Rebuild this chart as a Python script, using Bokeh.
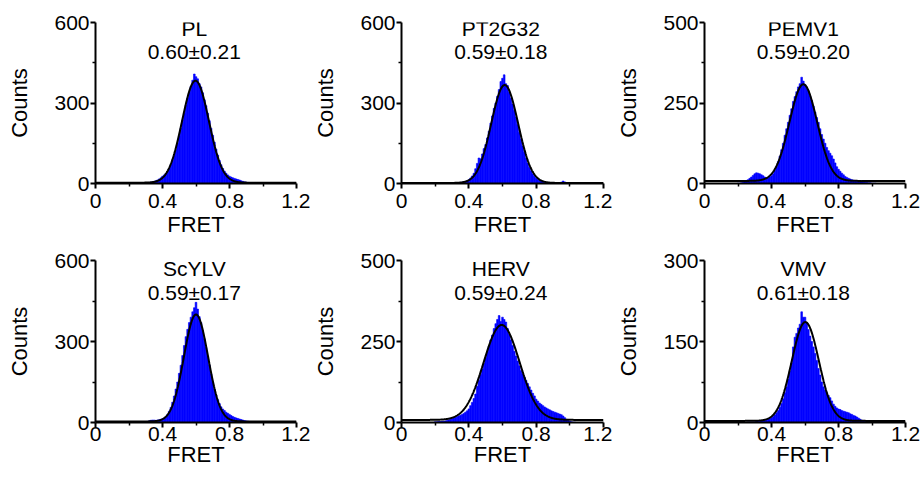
import numpy as np
from bokeh.plotting import figure
from bokeh.models import Range1d, FixedTicker, Label
from bokeh.layouts import column, row
from bokeh.embed import file_html
from bokeh.resources import INLINE

# ---------------- data ----------------
names = ["PL", "PT2G32", "PEMV1", "ScYLV", "HERV", "VMV"]
fret_means = ["0.60", "0.59", "0.59", "0.59", "0.59", "0.61"]
fret_widths = ["0.21", "0.18", "0.20", "0.17", "0.24", "0.18"]
y_max = [600, 600, 500, 600, 500, 300]
x_tick_values = [0, 0.4, 0.8, 1.2]
x_tick_labels = ["0", "0.4", "0.8", "1.2"]
x_minor_values = [0.2, 0.6, 1.0]

# histogram bin centres (FRET), 0.01 wide, 0.20 ... 1.05
bin_start = 0.20
bin_width = 0.01

counts_PL = [0, 0, 0, 1, 1, 1, 1, 2, 2, 2,
             3, 3, 4, 5, 6, 8, 10, 13, 17, 21,
             27, 32, 38, 46, 56, 70, 86, 104, 126, 150,
             178, 206, 236, 262, 292, 318, 340, 362, 385, 408,
             398, 390, 372, 360, 338, 312, 290, 262, 234, 206,
             180, 154, 128, 106, 86, 70, 56, 46, 38, 32,
             27, 24, 21, 19, 17, 15, 13, 10, 8, 6,
             5, 4, 3, 3, 2, 2, 1, 1, 1, 0,
             0, 0, 0, 0, 0, 0]
counts_PT2G32 = [0, 0, 0, 0, 0, 0, 0, 0, 0, 0,
                 1, 1, 2, 3, 3, 4, 5, 7, 8, 10,
                 14, 20, 28, 38, 55, 75, 95, 92, 110, 130,
                 145, 170, 195, 225, 252, 280, 300, 325, 350, 380,
                 392, 405, 372, 365, 340, 318, 296, 272, 248, 220,
                 190, 165, 140, 116, 95, 76, 60, 47, 36, 27,
                 20, 15, 12, 9, 7, 5, 4, 3, 2, 2,
                 1, 1, 1, 1, 2, 5, 9, 6, 2, 1,
                 0, 0, 0, 0, 0, 0]
counts_PEMV1 = [1, 1, 2, 3, 5, 8, 12, 16, 20, 25,
                30, 33, 32, 30, 27, 24, 20, 18, 17, 20,
                24, 30, 40, 52, 68, 85, 105, 125, 150, 170,
                190, 212, 232, 255, 270, 285, 300, 310, 330, 318,
                308, 300, 288, 272, 258, 240, 222, 205, 190, 170,
                152, 138, 125, 112, 102, 94, 86, 76, 64, 52,
                44, 38, 32, 27, 22, 19, 16, 14, 12, 10,
                9, 8, 7, 6, 5, 4, 3, 3, 2, 2,
                1, 1, 1, 0, 0, 0]
counts_ScYLV = [0, 0, 0, 0, 1, 1, 1, 1, 2, 2,
                3, 4, 6, 8, 9, 9, 8, 9, 10, 12,
                14, 17, 22, 30, 42, 56, 75, 98, 124, 150,
                182, 212, 248, 285, 318, 345, 370, 390, 410, 425,
                445, 420, 392, 370, 340, 310, 278, 246, 212, 180,
                150, 124, 102, 84, 70, 58, 50, 44, 38, 34,
                30, 26, 22, 19, 17, 15, 13, 11, 9, 7,
                6, 5, 4, 3, 3, 2, 2, 1, 1, 1,
                0, 0, 0, 0, 0, 0]
counts_HERV = [2, 2, 3, 3, 4, 4, 5, 6, 8, 10,
               12, 14, 16, 18, 20, 22, 25, 28, 32, 36,
               42, 52, 62, 74, 88, 112, 130, 148, 165, 182,
               200, 218, 236, 255, 270, 290, 305, 318, 330, 312,
               325, 318, 310, 290, 272, 255, 238, 220, 205, 190,
               175, 160, 150, 140, 130, 120, 110, 100, 90, 82,
               72, 66, 60, 56, 52, 48, 45, 42, 39, 36,
               34, 32, 30, 28, 26, 24, 20, 15, 10, 6,
               4, 2, 1, 1, 0, 0]
counts_VMV = [0, 0, 0, 0, 0, 0, 1, 1, 1, 1,
              1, 2, 2, 2, 3, 3, 4, 5, 6, 7,
              9, 11, 14, 18, 22, 28, 35, 44, 55, 66,
              80, 95, 110, 140, 158, 165, 175, 182, 205, 195,
              195, 185, 172, 160, 150, 140, 128, 115, 100, 88,
              75, 66, 60, 55, 50, 46, 40, 34, 30, 27,
              25, 24, 22, 21, 20, 19, 18, 16, 15, 13,
              12, 10, 8, 6, 4, 3, 2, 1, 1, 0,
              0, 0, 0, 0, 0, 0]
all_counts = [counts_PL, counts_PT2G32, counts_PEMV1,
              counts_ScYLV, counts_HERV, counts_VMV]

# Gaussian fit parameters: centre, sigma, amplitude, baseline offset
fit_mu = [0.597, 0.613, 0.590, 0.600, 0.595, 0.602]
fit_sigma = [0.080, 0.080, 0.083, 0.072, 0.107, 0.081]
fit_amp = [380, 365, 300, 396, 293, 183]
fit_y0 = [3, 2, 8, 4, 8, 3]

# ---------------- layout / style ----------------
FONT = "Liberation Sans"
col_w = [310, 302, 309]
col_left = [95, 91, 92]
col_frame = [201, 202, 201]
row_h = [243, 232]
row_top = [22, 17]
row_frame = [161, 162]
row_tick_standoff = [5, -1]
row_label_standoff = [1, -2]
row_name_frac = [0.962, 0.95]
row_value_frac = [0.82, 0.80]


def make_panel(i):
    r, c = divmod(i, 3)
    W, H = col_w[c], row_h[r]
    bl, fw = col_left[c], col_frame[c]
    bt, fh = row_top[r], row_frame[r]
    ym = y_max[i]
    p = figure(width=W, height=H, output_backend="svg", toolbar_location=None,
               x_range=Range1d(0, 1.2), y_range=Range1d(0, ym),
               min_border_left=bl, min_border_right=W - bl - fw,
               min_border_top=bt, min_border_bottom=H - bt - fh)
    p.outline_line_color = None
    p.xgrid.visible = False
    p.ygrid.visible = False
    p.background_fill_color = "white"
    p.border_fill_color = "white"

    counts = all_counts[i]
    centres = [bin_start + bin_width * k for k in range(len(counts))]
    p.vbar(x=centres, top=counts, width=bin_width, bottom=0,
           fill_color="#0000FF", line_color="#0000FF", line_width=0.6)

    xs = np.linspace(0, 1.2, 481)
    ys = fit_amp[i] * np.exp(-(xs - fit_mu[i]) ** 2 / (2 * fit_sigma[i] ** 2)) + fit_y0[i]
    p.line(xs, ys, line_color="black", line_width=2)

    p.xaxis.ticker = FixedTicker(ticks=x_tick_values, minor_ticks=x_minor_values)
    p.xaxis.major_label_overrides = dict(zip(x_tick_values, x_tick_labels))
    p.yaxis.ticker = FixedTicker(ticks=[0, ym / 2, ym], minor_ticks=[ym / 4, 3 * ym / 4])
    p.xaxis.axis_label = "FRET"
    p.yaxis.axis_label = "Counts"
    for ax in (p.xaxis[0], p.yaxis[0]):
        ax.axis_line_width = 2
        ax.axis_line_color = "black"
        ax.major_tick_line_width = 2
        ax.minor_tick_line_width = 1.5
        ax.major_tick_in = 0
        ax.major_tick_out = 5
        ax.minor_tick_in = 0
        ax.minor_tick_out = 3
        ax.major_label_text_font = FONT
        ax.major_label_text_font_size = "21px"
        ax.major_label_text_color = "black"
        ax.axis_label_text_font = FONT
        ax.axis_label_text_font_style = "normal"
        ax.axis_label_text_color = "black"
        ax.axis_label_text_font_size = "22px"
    p.xaxis.major_label_standoff = row_tick_standoff[r]
    p.yaxis.major_label_standoff = 1
    p.xaxis.axis_label_standoff = row_label_standoff[r]
    p.yaxis.axis_label_standoff = 19

    p.add_layout(Label(x=0.59, y=ym * row_name_frac[r], text=names[i], text_font=FONT,
                       text_font_size="21px", text_align="center",
                       text_baseline="middle", text_color="black"))
    p.add_layout(Label(x=0.59, y=ym * row_value_frac[r],
                       text=fret_means[i] + "\u00b1" + fret_widths[i], text_font=FONT,
                       text_font_size="21px", text_align="center",
                       text_baseline="middle", text_color="black"))
    return p


panels = [make_panel(i) for i in range(6)]
layout = column(row(*panels[:3]), row(*panels[3:]))

open("out.html", "w").write(file_html(layout, INLINE))
